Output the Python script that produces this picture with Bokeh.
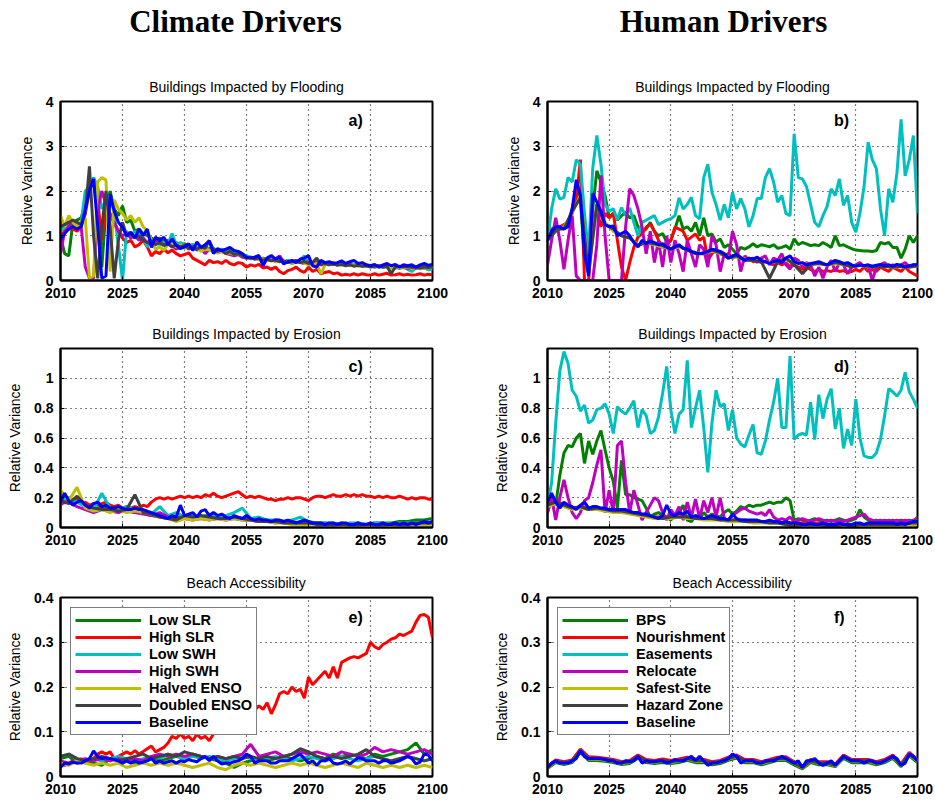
from bokeh.plotting import figure
from bokeh.layouts import row, column
from bokeh.models import (Range1d, FixedTicker, Title, Legend, LegendItem, Label,
                          CustomJSTickFormatter)
from bokeh.embed import file_html
from bokeh.resources import INLINE

# ---------------------------------------------------------------- data
YEARS = list(range(2010, 2101))          # annual series
YEARS_2 = list(range(2010, 2101, 2))     # biennial series

CLIMATE_NAMES = ["Low SLR", "High SLR", "Low SWH", "High SWH",
                 "Halved ENSO", "Doubled ENSO", "Baseline"]
HUMAN_NAMES = ["BPS", "Nourishment", "Easements", "Relocate",
               "Safest-Site", "Hazard Zone", "Baseline"]
COLORS = ["#008000", "#ff0000", "#00bfbf", "#bf00bf", "#bfbf00", "#404040", "#0000ff"]

X_TICKS = [2010, 2025, 2040, 2055, 2070, 2085, 2100]
FLOOD_TICKS = [0, 1, 2, 3, 4]
EROSION_TICKS = [0, 0.2, 0.4, 0.6, 0.8, 1]
BEACH_TICKS = [0, 0.1, 0.2, 0.3, 0.4]

# (a) flooding, climate drivers
A_LOW_SLR = [1.0, 0.6, 0.55, 1.3, 1.35, 1.4, 1.7, 2.1, 2.2, 1.5, 0.3, 1.6, 2.0, 1.6, 1.45, 1.67, 1.3, 1.35, 1.1, 1.15,
             1.05, 1.0, 0.95, 0.9, 0.95, 0.85, 0.9, 0.8, 0.85, 0.8, 0.82, 0.78, 0.8, 0.72, 0.75, 0.7, 0.72, 0.68, 0.7, 0.65,
             0.68, 0.72, 0.6, 0.62, 0.58, 0.55, 0.5, 0.52, 0.48, 0.5, 0.45, 0.5, 0.42, 0.45, 0.4, 0.45, 0.38, 0.42, 0.4, 0.45,
             0.38, 0.4, 0.35, 0.38, 0.36, 0.4, 0.38, 0.36, 0.4, 0.35, 0.38, 0.36, 0.34, 0.36, 0.33, 0.32, 0.34, 0.3, 0.32, 0.3,
             0.31, 0.28, 0.3, 0.32, 0.29, 0.3, 0.28, 0.3, 0.32, 0.3, 0.3]
A_HIGH_SLR = [1.0, 1.1, 1.15, 1.15, 1.1, 1.2, 1.5, 2.0, 2.3, 1.8, 0.9, 1.7, 1.5, 1.3, 1.1, 0.95, 0.85, 0.9, 0.75, 0.8,
              0.9, 0.75, 0.55, 0.65, 0.6, 0.7, 0.62, 0.68, 0.6, 0.55, 0.58, 0.62, 0.5, 0.45, 0.4, 0.35, 0.45, 0.4, 0.42, 0.38,
              0.45, 0.38, 0.35, 0.4, 0.38, 0.3, 0.35, 0.32, 0.36, 0.28, 0.3, 0.25, 0.3, 0.2, 0.15, 0.22, 0.25, 0.3, 0.22, 0.18,
              0.3, 0.2, 0.25, 0.15, 0.18, 0.2, 0.15, 0.17, 0.12, 0.14, 0.12, 0.15, 0.12, 0.15, 0.13, 0.12, 0.15, 0.12, 0.14, 0.16,
              0.12, 0.13, 0.15, 0.12, 0.14, 0.12, 0.13, 0.15, 0.12, 0.14, 0.13]
A_LOW_SWH = [1.1, 1.2, 1.25, 1.3, 1.2, 1.3, 2.0, 2.1, 2.3, 2.1, 1.6, 1.8, 1.9, 1.5, 0.8, 0.0, 1.1, 1.0, 1.1, 1.05,
             0.95, 0.75, 0.9, 0.85, 0.8, 0.85, 0.82, 1.05, 0.8, 0.85, 0.78, 0.72, 0.8, 0.75, 0.7, 0.78, 0.68, 0.72, 0.66, 0.7,
             0.62, 0.66, 0.6, 0.62, 0.58, 0.55, 0.5, 0.52, 0.5, 0.48, 0.46, 0.48, 0.44, 0.46, 0.42, 0.45, 0.4, 0.42, 0.45, 0.55,
             0.4, 0.38, 0.42, 0.35, 0.4, 0.38, 0.36, 0.38, 0.35, 0.37, 0.34, 0.36, 0.33, 0.35, 0.32, 0.34, 0.3, 0.32, 0.3, 0.31,
             0.28, 0.3, 0.27, 0.3, 0.25, 0.2, 0.28, 0.26, 0.28, 0.24, 0.25]
A_HIGH_SWH = [0.6, 1.1, 1.2, 1.3, 1.2, 1.2, 0.3, 0.05, 0.05, 1.6, 2.0, 1.7, 1.4, 1.3, 1.1, 1.0, 1.05, 0.95, 1.0, 0.9,
              0.95, 0.85, 0.8, 0.9, 0.85, 0.8, 0.82, 0.78, 0.7, 0.75, 0.78, 0.7, 0.75, 0.68, 0.72, 0.6, 0.7, 0.66, 0.62, 0.65,
              0.6, 0.58, 0.55, 0.58, 0.52, 0.5, 0.52, 0.48, 0.5, 0.46, 0.5, 0.45, 0.48, 0.55, 0.42, 0.4, 0.42, 0.45, 0.4, 0.38,
              0.42, 0.36, 0.4, 0.35, 0.38, 0.36, 0.4, 0.35, 0.37, 0.34, 0.36, 0.33, 0.35, 0.32, 0.34, 0.32, 0.3, 0.33, 0.3, 0.32,
              0.29, 0.3, 0.28, 0.3, 0.27, 0.29, 0.27, 0.3, 0.28, 0.3, 0.28]
A_HALVED_ENSO = [1.45, 1.2, 1.45, 1.3, 1.2, 1.3, 1.4, 0.05, 0.1, 2.2, 2.3, 2.25, 0.2, 1.8, 1.6, 1.5, 1.35, 1.45, 1.3, 1.4,
                 1.2, 1.1, 0.9, 0.7, 0.75, 0.68, 0.8, 0.85, 0.75, 0.8, 0.72, 0.75, 0.7, 0.72, 0.65, 0.7, 0.68, 0.65, 0.62, 0.66,
                 0.6, 0.62, 0.58, 0.6, 0.55, 0.52, 0.48, 0.5, 0.46, 0.48, 0.44, 0.46, 0.42, 0.44, 0.4, 0.42, 0.38, 0.4, 0.42, 0.38,
                 0.36, 0.35, 0.38, 0.15, 0.35, 0.38, 0.35, 0.37, 0.34, 0.36, 0.33, 0.35, 0.32, 0.34, 0.31, 0.33, 0.3, 0.32, 0.3, 0.31,
                 0.28, 0.3, 0.29, 0.28, 0.3, 0.27, 0.29, 0.27, 0.28, 0.3, 0.28]
A_DOUBLED_ENSO = [1.2, 1.25, 1.3, 1.35, 1.3, 1.25, 1.5, 2.55, 1.0, 0.05, 1.2, 2.0, 1.2, 0.05, 0.9, 1.3, 1.0, 1.05, 0.95, 1.0,
                  0.9, 0.85, 0.9, 0.8, 0.85, 0.78, 0.82, 0.75, 0.8, 0.75, 0.78, 0.72, 0.75, 0.7, 0.75, 0.72, 0.88, 0.7, 0.65, 0.68,
                  0.6, 0.65, 0.58, 0.6, 0.55, 0.5, 0.52, 0.48, 0.5, 0.45, 0.48, 0.44, 0.46, 0.42, 0.44, 0.4, 0.42, 0.44, 0.4, 0.42,
                  0.38, 0.4, 0.5, 0.36, 0.38, 0.35, 0.37, 0.34, 0.36, 0.33, 0.35, 0.32, 0.34, 0.32, 0.33, 0.3, 0.32, 0.33, 0.3, 0.32,
                  0.15, 0.3, 0.32, 0.3, 0.31, 0.29, 0.3, 0.28, 0.3, 0.29, 0.3]
A_BASELINE = [0.9, 1.05, 1.15, 1.2, 1.15, 1.2, 1.6, 2.0, 2.27, 1.2, 0.05, 0.1, 1.93, 1.55, 1.3, 1.19, 1.0, 1.08, 0.95, 1.15,
              1.0, 1.15, 0.74, 0.97, 0.89, 0.97, 0.8, 0.93, 0.78, 0.71, 0.75, 0.82, 0.67, 0.86, 0.74, 0.8, 0.89, 0.6, 0.71, 0.67,
              0.7, 0.74, 0.67, 0.65, 0.6, 0.52, 0.5, 0.52, 0.56, 0.33, 0.5, 0.56, 0.48, 0.52, 0.37, 0.42, 0.45, 0.4, 0.48, 0.5,
              0.56, 0.33, 0.3, 0.45, 0.4, 0.42, 0.38, 0.4, 0.44, 0.38, 0.42, 0.45, 0.38, 0.4, 0.35, 0.33, 0.36, 0.3, 0.35, 0.38,
              0.33, 0.36, 0.3, 0.35, 0.33, 0.35, 0.3, 0.35, 0.38, 0.34, 0.36]

# (b) flooding, human drivers
B_BPS = [0.9, 1.0, 1.1, 1.15, 1.2, 1.3, 1.6, 2.0, 1.8, 0.5, 0.3, 1.6, 2.45, 2.2, 1.9, 1.4, 1.5, 1.35, 1.45, 1.52,
         1.4, 1.45, 1.2, 1.08, 1.15, 1.3, 1.1, 1.0, 1.05, 0.86, 0.9, 1.15, 1.45, 1.15, 1.2, 1.1, 1.3, 1.0, 1.4, 1.0,
         1.04, 0.86, 0.93, 0.74, 0.8, 0.7, 0.6, 0.74, 0.7, 0.75, 0.82, 0.75, 0.8, 0.78, 0.75, 0.8, 0.72, 0.74, 0.78, 0.7,
         0.93, 0.8, 0.85, 0.82, 0.78, 0.8, 0.78, 0.85, 0.8, 0.74, 1.0, 0.78, 0.8, 0.75, 0.71, 0.68, 0.67, 0.66, 0.66, 0.65,
         0.67, 0.85, 0.82, 0.85, 0.74, 0.74, 0.5, 0.7, 1.0, 0.85, 1.0]
B_NOURISHMENT = [1.0, 1.15, 1.2, 1.2, 1.25, 1.3, 1.5, 1.8, 2.7, 0.0, 0.0, 1.3, 1.6, 1.2, 1.5, 1.4, 1.5, 0.9, 0.3, 0.0,
                 0.4, 0.74, 0.97, 1.05, 1.19, 1.26, 1.1, 0.9, 0.74, 0.8, 0.89, 1.19, 1.15, 1.1, 0.9, 0.97, 1.04, 0.9, 0.97, 0.45,
                 0.6, 0.67, 0.6, 0.55, 0.6, 0.5, 0.55, 0.5, 0.45, 0.5, 0.42, 0.45, 0.4, 0.42, 0.38, 0.35, 0.4, 0.35, 0.4, 0.3,
                 0.35, 0.3, 0.25, 0.3, 0.25, 0.2, 0.25, 0.2, 0.22, 0.2, 0.25, 0.2, 0.22, 0.18, 0.2, 0.25, 0.2, 0.3, 0.2, 0.25,
                 0.2, 0.3, 0.25, 0.2, 0.3, 0.25, 0.2, 0.3, 0.2, 0.15, 0.1]
B_EASEMENTS = [0.86, 1.6, 2.05, 1.82, 1.86, 2.3, 2.2, 2.7, 2.6, 1.5, 0.6, 2.5, 3.24, 2.6, 1.7, 1.55, 1.6, 1.36, 1.63, 1.45,
               1.62, 1.3, 1.0, 1.3, 1.35, 1.4, 1.45, 1.25, 1.3, 1.35, 1.38, 1.45, 1.85, 1.6, 1.7, 1.86, 1.45, 1.38, 2.3, 2.6,
               1.97, 1.7, 1.35, 1.7, 1.4, 1.97, 1.6, 1.83, 1.6, 1.2, 1.45, 1.83, 1.83, 2.3, 2.5, 2.2, 1.75, 1.9, 1.5, 1.45,
               3.28, 2.3, 2.27, 2.1, 1.7, 1.3, 1.2, 1.45, 1.65, 2.05, 1.9, 2.27, 1.68, 1.9, 1.3, 1.08, 1.5, 2.1, 3.09, 2.7,
               2.5, 1.6, 1.0, 2.05, 1.75, 2.4, 3.6, 2.34, 2.7, 3.24, 1.5]
B_RELOCATE = [0.35, 0.9, 1.4, 0.9, 0.25, 0.9, 1.45, 0.1, 0.0, 0.0, 0.0, 0.0, 0.8, 2.35, 1.0, 0.0, 0.0, 0.0, 0.0, 1.2,
              2.05, 1.9, 1.6, 1.2, 0.6, 1.1, 0.4, 0.9, 0.3, 1.0, 0.4, 0.9, 0.6, 0.2, 0.9, 0.6, 0.3, 0.8, 0.7, 0.3,
              1.0, 0.8, 0.2, 0.6, 0.5, 1.1, 0.8, 0.2, 0.55, 0.45, 0.5, 0.4, 0.5, 0.55, 0.35, 0.5, 0.45, 0.6, 0.35, 0.25,
              0.5, 0.45, 0.3, 0.4, 0.35, 0.1, 0.3, 0.05, 0.3, 0.45, 0.2, 0.4, 0.35, 0.15, 0.3, 0.35, 0.4, 0.3, 0.35, 0.0,
              0.3, 0.35, 0.4, 0.3, 0.35, 0.3, 0.35, 0.4, 0.3, 0.35, 0.3]
B_SAFEST_SITE = [0.95, 1.15, 1.2, 1.5, 1.9, 0.2, 1.7, 1.3, 1.1, 1.0, 0.95, 0.8, 0.85, 0.8, 0.75, 0.72, 0.75, 0.68, 0.62, 0.6,
                 0.65, 0.6, 0.52, 0.52, 0.48, 0.45, 0.44, 0.4, 0.42, 0.45, 0.4, 0.38, 0.36, 0.38, 0.34, 0.38, 0.35, 0.33, 0.33, 0.32,
                 0.32, 0.31, 0.3, 0.31, 0.3, 0.32]
B_HAZARD_ZONE = [0.9, 1.15, 1.15, 1.55, 1.85, 0.15, 1.7, 1.25, 1.15, 1.0, 0.95, 0.78, 0.85, 0.82, 0.78, 0.7, 0.78, 0.68, 0.6, 0.6,
                 0.68, 0.62, 0.5, 0.55, 0.45, 0.45, 0.42, 0.05, 0.42, 0.5, 0.35, 0.15, 0.36, 0.38, 0.35, 0.4, 0.36, 0.3, 0.34, 0.32,
                 0.3, 0.32, 0.3, 0.32, 0.3, 0.33]
B_BASELINE = [0.9, 1.1, 1.2, 1.2, 1.15, 1.2, 1.6, 2.25, 1.9, 0.6, 0.1, 1.95, 1.75, 1.55, 1.25, 1.2, 1.22, 1.0, 1.05, 1.1,
              1.0, 0.85, 0.75, 0.9, 0.82, 0.88, 0.85, 0.8, 0.82, 0.75, 0.7, 0.75, 0.8, 0.72, 0.7, 0.65, 0.62, 0.6, 0.62, 0.65,
              0.7, 0.68, 0.65, 0.6, 0.5, 0.55, 0.58, 0.52, 0.45, 0.5, 0.48, 0.52, 0.45, 0.42, 0.38, 0.42, 0.45, 0.4, 0.5, 0.55,
              0.42, 0.38, 0.4, 0.35, 0.38, 0.4, 0.42, 0.38, 0.35, 0.4, 0.45, 0.42, 0.38, 0.4, 0.35, 0.32, 0.35, 0.33, 0.35, 0.32,
              0.34, 0.36, 0.33, 0.35, 0.32, 0.36, 0.34, 0.3, 0.33, 0.35, 0.36]

# (c) erosion, climate drivers
C_LOW_SLR = [0.2, 0.17, 0.2, 0.15, 0.12, 0.14, 0.12, 0.13, 0.11, 0.1, 0.1, 0.08, 0.07, 0.06, 0.07, 0.06, 0.08, 0.07, 0.08, 0.07,
             0.06, 0.07, 0.06, 0.05, 0.05, 0.04, 0.05, 0.04, 0.04, 0.03, 0.03, 0.03, 0.03, 0.02, 0.03, 0.02, 0.03, 0.02, 0.03, 0.03,
             0.03, 0.04, 0.04, 0.05, 0.05, 0.06]
C_HIGH_SLR = [0.15, 0.18, 0.2, 0.17, 0.18, 0.16, 0.17, 0.15, 0.16, 0.15, 0.16, 0.17, 0.15, 0.14, 0.15, 0.13, 0.14, 0.13, 0.14, 0.13,
              0.15, 0.14, 0.17, 0.19, 0.2, 0.19, 0.2, 0.19, 0.2, 0.21, 0.2, 0.21, 0.2, 0.21, 0.2, 0.22, 0.21, 0.23, 0.21, 0.2,
              0.21, 0.22, 0.23, 0.24, 0.22, 0.2, 0.21, 0.2, 0.21, 0.2, 0.19, 0.19, 0.18, 0.19, 0.19, 0.2, 0.19, 0.2, 0.2, 0.19,
              0.18, 0.2, 0.21, 0.21, 0.2, 0.21, 0.22, 0.21, 0.21, 0.22, 0.21, 0.22, 0.21, 0.22, 0.21, 0.21, 0.2, 0.21, 0.2, 0.21,
              0.2, 0.2, 0.21, 0.2, 0.19, 0.2, 0.19, 0.2, 0.2, 0.19, 0.19]
C_LOW_SWH = [0.18, 0.2, 0.17, 0.14, 0.12, 0.23, 0.13, 0.12, 0.14, 0.12, 0.11, 0.09, 0.14, 0.08, 0.1, 0.07, 0.08, 0.07, 0.09, 0.07,
             0.08, 0.1, 0.13, 0.06, 0.07, 0.05, 0.05, 0.04, 0.05, 0.07, 0.04, 0.03, 0.03, 0.03, 0.02, 0.03, 0.03, 0.02, 0.03, 0.03,
             0.02, 0.03, 0.03, 0.03, 0.03, 0.03]
C_HIGH_SWH = [0.16, 0.17, 0.14, 0.12, 0.1, 0.12, 0.11, 0.1, 0.12, 0.1, 0.09, 0.08, 0.1, 0.07, 0.06, 0.06, 0.05, 0.06, 0.05, 0.06,
              0.05, 0.06, 0.05, 0.05, 0.04, 0.04, 0.03, 0.04, 0.03, 0.03, 0.03, 0.03, 0.02, 0.02, 0.02, 0.02, 0.02, 0.02, 0.02, 0.02,
              0.02, 0.02, 0.02, 0.02, 0.02, 0.02]
C_HALVED_ENSO = [0.25, 0.18, 0.27, 0.13, 0.11, 0.12, 0.1, 0.12, 0.1, 0.11, 0.1, 0.09, 0.07, 0.06, 0.04, 0.06, 0.05, 0.06, 0.05, 0.06,
                 0.05, 0.06, 0.05, 0.05, 0.04, 0.04, 0.03, 0.03, 0.02, 0.02, 0.02, 0.03, 0.02, 0.02, 0.01, 0.02, 0.02, 0.01, 0.02, 0.02,
                 0.01, 0.02, 0.02, 0.02, 0.02, 0.02]
C_DOUBLED_ENSO = [0.18, 0.16, 0.21, 0.15, 0.13, 0.12, 0.12, 0.11, 0.12, 0.22, 0.1, 0.09, 0.07, 0.06, 0.05, 0.08, 0.07, 0.08, 0.07, 0.06,
                  0.06, 0.07, 0.06, 0.05, 0.04, 0.04, 0.04, 0.03, 0.03, 0.03, 0.03, 0.02, 0.02, 0.02, 0.02, 0.02, 0.02, 0.02, 0.02, 0.02,
                  0.02, 0.02, 0.02, 0.03, 0.03, 0.03]
C_BASELINE = [0.17, 0.23, 0.18, 0.15, 0.17, 0.18, 0.15, 0.13, 0.16, 0.17, 0.14, 0.15, 0.13, 0.13, 0.14, 0.13, 0.12, 0.12, 0.13, 0.12,
              0.12, 0.11, 0.1, 0.09, 0.08, 0.07, 0.06, 0.08, 0.07, 0.15, 0.08, 0.09, 0.1, 0.07, 0.11, 0.12, 0.08, 0.1, 0.08, 0.09,
              0.07, 0.06, 0.08, 0.07, 0.06, 0.08, 0.06, 0.05, 0.06, 0.05, 0.05, 0.04, 0.05, 0.05, 0.04, 0.05, 0.04, 0.03, 0.04, 0.05,
              0.04, 0.03, 0.03, 0.03, 0.02, 0.03, 0.03, 0.02, 0.03, 0.03, 0.02, 0.02, 0.03, 0.02, 0.02, 0.03, 0.02, 0.02, 0.03, 0.02,
              0.02, 0.03, 0.02, 0.03, 0.02, 0.03, 0.02, 0.03, 0.04, 0.03, 0.04]

# (d) erosion, human drivers
D_BPS = [0.1, 0.2, 0.15, 0.35, 0.5, 0.55, 0.54, 0.6, 0.63, 0.43, 0.58, 0.49, 0.58, 0.65, 0.52, 0.4, 0.31, 0.13, 0.45, 0.22,
         0.22, 0.2, 0.19, 0.18, 0.13, 0.07, 0.09, 0.1, 0.08, 0.07, 0.05, 0.08, 0.1, 0.15, 0.05, 0.04, 0.08, 0.06, 0.1, 0.07,
         0.09, 0.08, 0.07, 0.1, 0.12, 0.09, 0.11, 0.14, 0.13, 0.15, 0.14, 0.15, 0.15, 0.16, 0.17, 0.16, 0.17, 0.17, 0.2, 0.18,
         0.05, 0.06, 0.05, 0.04, 0.05, 0.06, 0.05, 0.04, 0.05, 0.04, 0.05, 0.06, 0.05, 0.04, 0.05, 0.06, 0.12, 0.07, 0.05, 0.04,
         0.05, 0.04, 0.05, 0.04, 0.05, 0.04, 0.05, 0.04, 0.05, 0.04, 0.07]
D_NOURISHMENT = [0.15, 0.18, 0.15, 0.13, 0.14, 0.13, 0.13, 0.12, 0.11, 0.11, 0.1, 0.09, 0.08, 0.07, 0.07, 0.07, 0.08, 0.07, 0.07, 0.06,
                 0.06, 0.06, 0.05, 0.05, 0.05, 0.04, 0.04, 0.04, 0.04, 0.03, 0.03, 0.03, 0.03, 0.03, 0.02, 0.02, 0.02, 0.02, 0.02, 0.02,
                 0.02, 0.02, 0.02, 0.02, 0.02, 0.02]
D_EASEMENTS = [0.15, 0.3, 0.7, 1.05, 1.18, 1.1, 0.92, 0.88, 0.78, 0.82, 0.7, 0.72, 0.79, 0.8, 0.83, 0.76, 0.63, 0.81, 0.78, 0.76,
               0.8, 0.85, 0.67, 0.79, 0.75, 0.63, 0.65, 0.74, 0.9, 1.08, 0.79, 0.63, 0.76, 0.79, 1.12, 0.67, 0.8, 0.92, 0.67, 0.37,
               0.7, 0.92, 0.81, 0.83, 0.65, 0.79, 0.6, 0.56, 0.54, 0.62, 0.69, 0.5, 0.49, 0.58, 0.72, 0.84, 1.0, 0.67, 0.67, 1.15,
               0.59, 0.62, 0.63, 0.62, 0.84, 0.59, 0.89, 0.73, 0.86, 0.93, 0.66, 0.8, 0.53, 0.66, 0.55, 0.86, 0.6, 0.48, 0.47, 0.47,
               0.5, 0.59, 0.75, 0.93, 0.91, 0.88, 0.92, 1.04, 0.91, 0.86, 0.8]
D_RELOCATE = [0.1, 0.2, 0.05, 0.2, 0.32, 0.2, 0.1, 0.06, 0.1, 0.18, 0.2, 0.3, 0.42, 0.52, 0.1, 0.25, 0.1, 0.55, 0.58, 0.3,
              0.1, 0.25, 0.15, 0.05, 0.1, 0.15, 0.2, 0.18, 0.1, 0.05, 0.12, 0.08, 0.14, 0.05, 0.17, 0.07, 0.19, 0.06, 0.18, 0.1,
              0.2, 0.07, 0.2, 0.06, 0.05, 0.08, 0.1, 0.12, 0.13, 0.11, 0.1, 0.09, 0.1, 0.08, 0.12, 0.07, 0.05, 0.06, 0.05, 0.07,
              0.04, 0.05, 0.06, 0.05, 0.04, 0.05, 0.06, 0.05, 0.04, 0.05, 0.04, 0.05, 0.04, 0.05, 0.06, 0.07, 0.08, 0.09, 0.06, 0.05,
              0.04, 0.05, 0.04, 0.05, 0.04, 0.05, 0.04, 0.05, 0.04, 0.05, 0.05]
D_SAFEST_SITE = [0.14, 0.16, 0.14, 0.12, 0.13, 0.12, 0.12, 0.11, 0.1, 0.1, 0.09, 0.08, 0.07, 0.06, 0.06, 0.06, 0.07, 0.06, 0.06, 0.05,
                 0.05, 0.05, 0.04, 0.04, 0.04, 0.03, 0.03, 0.03, 0.03, 0.02, 0.02, 0.02, 0.02, 0.02, 0.01, 0.01, 0.01, 0.01, 0.01, 0.01,
                 0.01, 0.01, 0.01, 0.01, 0.01, 0.02]
D_HAZARD_ZONE = [0.15, 0.17, 0.15, 0.13, 0.14, 0.12, 0.13, 0.12, 0.11, 0.11, 0.1, 0.09, 0.08, 0.07, 0.06, 0.07, 0.07, 0.07, 0.06, 0.06,
                 0.06, 0.05, 0.05, 0.05, 0.04, 0.04, 0.04, 0.03, 0.03, 0.02, 0.01, 0.02, 0.02, 0.02, 0.01, 0.01, 0.02, 0.01, 0.02, 0.02,
                 0.02, 0.02, 0.02, 0.02, 0.03, 0.03]
D_BASELINE = [0.17, 0.23, 0.17, 0.13, 0.17, 0.15, 0.14, 0.12, 0.15, 0.17, 0.13, 0.14, 0.14, 0.13, 0.13, 0.12, 0.12, 0.12, 0.12, 0.12,
              0.11, 0.1, 0.1, 0.09, 0.09, 0.08, 0.07, 0.06, 0.08, 0.15, 0.09, 0.08, 0.1, 0.09, 0.11, 0.07, 0.08, 0.07, 0.06, 0.07,
              0.08, 0.07, 0.06, 0.06, 0.05, 0.09, 0.06, 0.05, 0.05, 0.05, 0.05, 0.05, 0.04, 0.04, 0.05, 0.04, 0.04, 0.03, 0.04, 0.03,
              0.03, 0.03, 0.02, 0.02, 0.03, 0.02, 0.02, 0.03, 0.02, 0.02, 0.02, 0.03, 0.02, 0.02, 0.02, 0.03, 0.03, 0.02, 0.03, 0.03,
              0.03, 0.03, 0.03, 0.03, 0.03, 0.02, 0.03, 0.02, 0.03, 0.04, 0.04]

# (e) beach accessibility, climate drivers
E_LOW_SLR = [0.04, 0.045, 0.03, 0.035, 0.03, 0.025, 0.04, 0.035, 0.04, 0.03, 0.035, 0.04, 0.035, 0.04, 0.045, 0.04, 0.05, 0.045, 0.04, 0.035,
             0.03, 0.02, 0.03, 0.035, 0.04, 0.035, 0.04, 0.045, 0.04, 0.035, 0.04, 0.045, 0.04, 0.05, 0.045, 0.05, 0.045, 0.04, 0.05, 0.045,
             0.05, 0.055, 0.06, 0.075, 0.05, 0.06]
E_HIGH_SLR = [0.03, 0.025, 0.03, 0.035, 0.03, 0.04, 0.03, 0.035, 0.04, 0.05, 0.055, 0.05, 0.055, 0.04, 0.045, 0.05, 0.055, 0.05, 0.058, 0.05,
              0.056, 0.062, 0.068, 0.055, 0.06, 0.065, 0.075, 0.09, 0.085, 0.095, 0.085, 0.09, 0.08, 0.095, 0.085, 0.09, 0.08, 0.095, 0.1, 0.105,
              0.11, 0.115, 0.12, 0.125, 0.13, 0.14, 0.13, 0.148, 0.158, 0.15, 0.165, 0.14, 0.16, 0.185, 0.19, 0.185, 0.2, 0.19, 0.195, 0.175,
              0.222, 0.205, 0.215, 0.225, 0.235, 0.22, 0.245, 0.22, 0.255, 0.26, 0.265, 0.268, 0.265, 0.27, 0.275, 0.3, 0.29, 0.285, 0.295, 0.3,
              0.307, 0.31, 0.318, 0.315, 0.32, 0.325, 0.345, 0.36, 0.362, 0.356, 0.31]
E_LOW_SWH = [0.045, 0.05, 0.04, 0.035, 0.04, 0.035, 0.04, 0.045, 0.04, 0.035, 0.04, 0.045, 0.04, 0.05, 0.045, 0.04, 0.045, 0.04, 0.045, 0.04,
             0.035, 0.04, 0.045, 0.04, 0.035, 0.04, 0.045, 0.04, 0.035, 0.04, 0.045, 0.04, 0.035, 0.04, 0.045, 0.04, 0.035, 0.04, 0.045, 0.04,
             0.035, 0.04, 0.045, 0.04, 0.035, 0.04]
E_HIGH_SWH = [0.035, 0.03, 0.035, 0.04, 0.035, 0.04, 0.035, 0.04, 0.035, 0.04, 0.035, 0.045, 0.05, 0.045, 0.05, 0.045, 0.05, 0.045, 0.04, 0.045,
              0.04, 0.045, 0.05, 0.072, 0.045, 0.05, 0.055, 0.045, 0.05, 0.055, 0.05, 0.055, 0.05, 0.045, 0.055, 0.05, 0.045, 0.05, 0.065, 0.055,
              0.06, 0.055, 0.05, 0.055, 0.06, 0.05]
E_HALVED_ENSO = [0.03, 0.025, 0.035, 0.03, 0.025, 0.03, 0.025, 0.03, 0.02, 0.025, 0.03, 0.025, 0.03, 0.025, 0.03, 0.025, 0.02, 0.025, 0.03, 0.02,
                 0.015, 0.025, 0.03, 0.025, 0.03, 0.025, 0.02, 0.025, 0.03, 0.025, 0.03, 0.025, 0.02, 0.025, 0.03, 0.025, 0.02, 0.03, 0.025, 0.02,
                 0.025, 0.02, 0.025, 0.02, 0.025, 0.02]
E_DOUBLED_ENSO = [0.045, 0.05, 0.04, 0.035, 0.04, 0.045, 0.04, 0.035, 0.04, 0.045, 0.05, 0.04, 0.045, 0.05, 0.045, 0.055, 0.05, 0.045, 0.04, 0.045,
                  0.04, 0.045, 0.04, 0.045, 0.04, 0.045, 0.04, 0.045, 0.05, 0.062, 0.055, 0.045, 0.04, 0.045, 0.04, 0.045, 0.05, 0.06, 0.045, 0.04,
                  0.035, 0.04, 0.045, 0.04, 0.035, 0.04]
E_BASELINE = [0.02, 0.03, 0.028, 0.032, 0.03, 0.03, 0.035, 0.04, 0.057, 0.045, 0.04, 0.042, 0.04, 0.038, 0.035, 0.03, 0.035, 0.03, 0.035, 0.03,
              0.032, 0.035, 0.04, 0.03, 0.035, 0.03, 0.033, 0.035, 0.03, 0.035, 0.033, 0.038, 0.035, 0.033, 0.04, 0.045, 0.035, 0.045, 0.035, 0.028,
              0.03, 0.03, 0.033, 0.035, 0.04, 0.05, 0.045, 0.03, 0.035, 0.035, 0.035, 0.03, 0.03, 0.035, 0.035, 0.035, 0.04, 0.045, 0.05, 0.04,
              0.03, 0.035, 0.025, 0.035, 0.035, 0.04, 0.03, 0.028, 0.03, 0.035, 0.028, 0.035, 0.042, 0.04, 0.035, 0.035, 0.035, 0.03, 0.035, 0.035,
              0.03, 0.032, 0.035, 0.04, 0.045, 0.04, 0.028, 0.032, 0.05, 0.048, 0.035]

# (f) beach accessibility, human drivers
F_BPS = [0.018, 0.031, 0.027, 0.031, 0.054, 0.036, 0.036, 0.034, 0.031, 0.027, 0.029, 0.041, 0.031, 0.029, 0.031, 0.029, 0.031, 0.036, 0.031, 0.031,
         0.026, 0.029, 0.036, 0.041, 0.031, 0.031, 0.026, 0.031, 0.036, 0.036, 0.026, 0.017, 0.031, 0.026, 0.026, 0.022, 0.041, 0.031, 0.031, 0.031,
         0.026, 0.031, 0.041, 0.022, 0.046, 0.031]
F_NOURISHMENT = [0.022, 0.037, 0.033, 0.037, 0.061, 0.044, 0.043, 0.041, 0.038, 0.033, 0.036, 0.048, 0.038, 0.036, 0.039, 0.036, 0.039, 0.043, 0.039, 0.038,
                 0.033, 0.036, 0.043, 0.048, 0.038, 0.038, 0.033, 0.038, 0.043, 0.044, 0.033, 0.023, 0.038, 0.033, 0.033, 0.028, 0.048, 0.038, 0.038, 0.038,
                 0.033, 0.038, 0.048, 0.028, 0.054, 0.038]
F_EASEMENTS = [0.02, 0.034, 0.03, 0.034, 0.057, 0.04, 0.039, 0.037, 0.035, 0.03, 0.033, 0.044, 0.035, 0.033, 0.035, 0.032, 0.035, 0.04, 0.035, 0.034,
               0.03, 0.033, 0.04, 0.045, 0.035, 0.034, 0.03, 0.035, 0.04, 0.04, 0.03, 0.021, 0.035, 0.03, 0.03, 0.025, 0.044, 0.035, 0.035, 0.034,
               0.03, 0.035, 0.044, 0.025, 0.05, 0.035]
F_RELOCATE = [0.021, 0.035, 0.031, 0.035, 0.058, 0.041, 0.04, 0.038, 0.035, 0.031, 0.033, 0.045, 0.036, 0.034, 0.036, 0.033, 0.036, 0.041, 0.036, 0.035,
              0.031, 0.034, 0.041, 0.046, 0.036, 0.035, 0.031, 0.036, 0.041, 0.041, 0.031, 0.021, 0.036, 0.031, 0.031, 0.026, 0.045, 0.036, 0.036, 0.035,
              0.031, 0.036, 0.045, 0.026, 0.051, 0.036]
F_SAFEST_SITE = [0.019, 0.034, 0.029, 0.034, 0.057, 0.039, 0.039, 0.037, 0.034, 0.029, 0.032, 0.044, 0.034, 0.032, 0.034, 0.032, 0.034, 0.039, 0.034, 0.034,
                 0.029, 0.032, 0.039, 0.044, 0.034, 0.034, 0.029, 0.034, 0.039, 0.039, 0.029, 0.019, 0.034, 0.029, 0.029, 0.024, 0.044, 0.034, 0.034, 0.034,
                 0.029, 0.034, 0.044, 0.024, 0.049, 0.034]
F_HAZARD_ZONE = [0.02, 0.035, 0.03, 0.035, 0.058, 0.04, 0.04, 0.038, 0.035, 0.03, 0.033, 0.045, 0.035, 0.033, 0.035, 0.033, 0.035, 0.04, 0.035, 0.035,
                 0.03, 0.033, 0.04, 0.045, 0.035, 0.035, 0.03, 0.035, 0.04, 0.04, 0.03, 0.02, 0.035, 0.03, 0.03, 0.025, 0.045, 0.035, 0.035, 0.035,
                 0.03, 0.035, 0.045, 0.025, 0.05, 0.035]
F_BASELINE = [0.02, 0.03, 0.035, 0.03, 0.03, 0.03, 0.035, 0.04, 0.058, 0.045, 0.04, 0.04, 0.04, 0.04, 0.038, 0.035, 0.035, 0.03, 0.03, 0.035,
              0.033, 0.035, 0.045, 0.03, 0.035, 0.033, 0.033, 0.035, 0.035, 0.03, 0.033, 0.038, 0.035, 0.035, 0.04, 0.045, 0.035, 0.045, 0.035, 0.025,
              0.03, 0.03, 0.033, 0.035, 0.04, 0.05, 0.045, 0.03, 0.035, 0.035, 0.035, 0.03, 0.03, 0.035, 0.035, 0.035, 0.04, 0.045, 0.04, 0.035,
              0.03, 0.035, 0.02, 0.035, 0.035, 0.04, 0.03, 0.025, 0.03, 0.035, 0.025, 0.035, 0.045, 0.04, 0.035, 0.035, 0.035, 0.03, 0.035, 0.035,
              0.03, 0.03, 0.035, 0.04, 0.045, 0.04, 0.025, 0.03, 0.05, 0.045, 0.035]

# ---------------------------------------------------------------- styling
TICK_FONT = "Liberation Sans"
LINE_WIDTH = 3
PAGE_WIDTH = 935
HEADER_HEIGHT = 69


def years_for(values):
    return YEARS if len(values) == len(YEARS) else YEARS_2


def make_header():
    """Strip holding the two column headings."""
    h = figure(width=PAGE_WIDTH, height=HEADER_HEIGHT,
               x_range=Range1d(0, PAGE_WIDTH), y_range=Range1d(0, HEADER_HEIGHT),
               x_axis_type=None, y_axis_type=None, min_border=0,
               output_backend="svg", toolbar_location=None,
               outline_line_color=None, background_fill_color="white",
               border_fill_color="white")
    h.grid.visible = False
    for text, cx in (("Climate Drivers", 235), ("Human Drivers", 723)):
        h.add_layout(Label(x=cx, y=HEADER_HEIGHT - 21, text=text,
                           text_font="Liberation Serif", text_font_size="31px",
                           text_font_style="bold", text_color="black",
                           text_align="center", text_baseline="alphabetic"))
    return h


def make_panel(series, names, title, ymax, yticks, letter, letter_y,
               width, height, borders, legend=False):
    left, right, top, bottom = borders
    p = figure(width=width, height=height, title=None,
               x_range=Range1d(2010, 2100), y_range=Range1d(0, ymax),
               output_backend="svg", toolbar_location=None,
               min_border_left=left, min_border_right=right,
               min_border_top=top, min_border_bottom=bottom,
               background_fill_color="white", border_fill_color="white")

    p.add_layout(Title(text=title, align="center", standoff=14,
                       text_font=TICK_FONT, text_font_size="14px",
                       text_font_style="normal", text_color="black"), "above")

    p.xaxis.ticker = FixedTicker(ticks=X_TICKS)
    p.yaxis.ticker = FixedTicker(ticks=yticks)
    p.yaxis.formatter = CustomJSTickFormatter(code="return String(tick);")
    for ax in (p.xaxis[0], p.yaxis[0]):
        ax.major_label_text_font = TICK_FONT
        ax.major_label_text_font_size = "14px"
        ax.major_label_text_font_style = "bold"
        ax.major_label_text_color = "black"
        ax.major_tick_in = 4
        ax.major_tick_out = 0
        ax.major_tick_line_color = "black"
        ax.major_tick_line_width = 1
        ax.minor_tick_line_color = None
        ax.axis_line_color = "black"
        ax.axis_line_width = 2
        ax.major_label_standoff = 7
    p.yaxis.axis_label = "Relative Variance"
    p.yaxis.axis_label_text_font = TICK_FONT
    p.yaxis.axis_label_text_font_size = "14px"
    p.yaxis.axis_label_text_font_style = "normal"
    p.yaxis.axis_label_text_color = "black"
    p.yaxis.axis_label_standoff = 8

    p.grid.grid_line_color = "black"
    p.grid.grid_line_dash = "1 4"
    p.grid.grid_line_width = 1.2
    p.outline_line_color = "black"
    p.outline_line_width = 2
    p.outline_line_alpha = 1.0

    items = []
    for values, name, color in zip(series, names, COLORS):
        r = p.line(years_for(values), values, line_color=color, line_width=LINE_WIDTH)
        items.append(LegendItem(label=name, renderers=[r]))

    if legend:
        leg = Legend(items=items, location=(10, 41),
                     label_text_font=TICK_FONT, label_text_font_size="14.5px",
                     label_text_font_style="bold", label_text_color="black",
                     glyph_width=66, glyph_height=16, label_height=16,
                     label_standoff=8, spacing=1, padding=4, margin=0,
                     border_line_color="black", border_line_width=1,
                     background_fill_color="white", background_fill_alpha=1.0)
        p.add_layout(leg)

    p.add_layout(Label(x=2079.7, y=letter_y, text=letter, text_font=TICK_FONT,
                       text_font_size="16px", text_font_style="bold",
                       text_baseline="middle", text_color="black"))
    return p


LEFT = (60, 38)
RIGHT = (77, 18)
ROW1 = (241, 32, 30)
ROW2 = (250, 38, 33)
ROW3 = (240, 37, 24)

pa = make_panel([A_LOW_SLR, A_HIGH_SLR, A_LOW_SWH, A_HIGH_SWH, A_HALVED_ENSO, A_DOUBLED_ENSO, A_BASELINE],
                CLIMATE_NAMES, "Buildings Impacted by Flooding", 4, FLOOD_TICKS, "a)", 3.58,
                470, ROW1[0], (LEFT[0], LEFT[1], ROW1[1], ROW1[2]))
pb = make_panel([B_BPS, B_NOURISHMENT, B_EASEMENTS, B_RELOCATE, B_SAFEST_SITE, B_HAZARD_ZONE, B_BASELINE],
                HUMAN_NAMES, "Buildings Impacted by Flooding", 4, FLOOD_TICKS, "b)", 3.58,
                465, ROW1[0], (RIGHT[0], RIGHT[1], ROW1[1], ROW1[2]))
pc = make_panel([C_LOW_SLR, C_HIGH_SLR, C_LOW_SWH, C_HIGH_SWH, C_HALVED_ENSO, C_DOUBLED_ENSO, C_BASELINE],
                CLIMATE_NAMES, "Buildings Impacted by Erosion", 1.2, EROSION_TICKS, "c)", 1.078,
                470, ROW2[0], (LEFT[0], LEFT[1], ROW2[1], ROW2[2]))
pd_ = make_panel([D_BPS, D_NOURISHMENT, D_EASEMENTS, D_RELOCATE, D_SAFEST_SITE, D_HAZARD_ZONE, D_BASELINE],
                 HUMAN_NAMES, "Buildings Impacted by Erosion", 1.2, EROSION_TICKS, "d)", 1.078,
                 465, ROW2[0], (RIGHT[0], RIGHT[1], ROW2[1], ROW2[2]))
pe = make_panel([E_LOW_SLR, E_HIGH_SLR, E_LOW_SWH, E_HIGH_SWH, E_HALVED_ENSO, E_DOUBLED_ENSO, E_BASELINE],
                CLIMATE_NAMES, "Beach Accessibility", 0.4, BEACH_TICKS, "e)", 0.356,
                470, ROW3[0], (LEFT[0], LEFT[1], ROW3[1], ROW3[2]), legend=True)
pf = make_panel([F_BPS, F_NOURISHMENT, F_EASEMENTS, F_RELOCATE, F_SAFEST_SITE, F_HAZARD_ZONE, F_BASELINE],
                HUMAN_NAMES, "Beach Accessibility", 0.4, BEACH_TICKS, "f)", 0.356,
                465, ROW3[0], (RIGHT[0], RIGHT[1], ROW3[1], ROW3[2]), legend=True)

layout = column(make_header(), row(pa, pb), row(pc, pd_), row(pe, pf))

with open("out.html", "w") as f:
    f.write(file_html(layout, INLINE))
